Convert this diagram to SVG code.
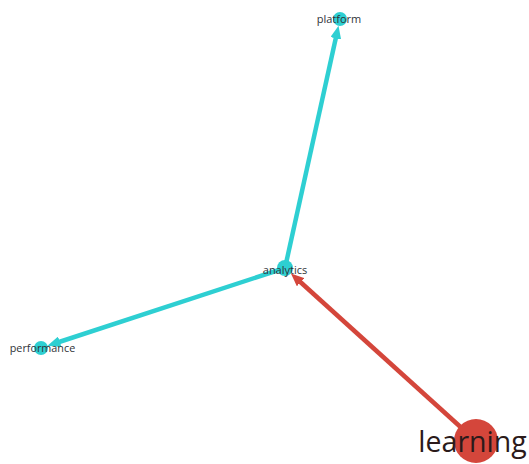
<svg xmlns="http://www.w3.org/2000/svg" width="529" height="464" viewBox="0 0 529 464">
<style>
.lbl{font-family:"Open Sans","Liberation Sans",sans-serif;fill:#2f3338;text-anchor:middle}
.cy{stroke:#2ecfd2;stroke-width:4.5;fill:none}
.rd{stroke:#d4463b;stroke-width:4.5;fill:none}
</style>
<defs>
<marker id="ac" markerUnits="userSpaceOnUse" markerWidth="13" markerHeight="11" refX="4" refY="5.5" orient="auto" viewBox="0 0 13 11"><path d="M0,0 L13,5.5 L0,11 z" fill="#2ecfd2"/></marker>
<marker id="ar" markerUnits="userSpaceOnUse" markerWidth="13" markerHeight="11" refX="4" refY="5.5" orient="auto" viewBox="0 0 13 11"><path d="M0,0 L13,5.5 L0,11 z" fill="#d4463b"/></marker>
</defs>
<rect width="529" height="464" fill="#fff"/>
<g id="edges">
<line class="cy" x1="285" y1="268" x2="336.6" y2="34.5" marker-end="url(#ac)"/>
<line class="cy" x1="285" y1="268" x2="56" y2="343" marker-end="url(#ac)"/>
<line class="rd" x1="476" y1="441" x2="297.6" y2="279.5" marker-end="url(#ar)"/>
</g>
<g id="node-platform"><circle cx="340" cy="19" r="7" fill="#2ecfd2"/><text class="lbl" x="339" y="23" font-size="11">platform</text></g>
<g id="node-analytics"><circle cx="285" cy="268" r="8" fill="#2ecfd2"/><text class="lbl" x="285" y="274" font-size="11">analytics</text></g>
<g id="node-performance"><circle cx="41" cy="348" r="7" fill="#2ecfd2"/><text class="lbl" x="42.5" y="352" font-size="10.8">performance</text></g>
<g id="node-learning"><circle cx="476" cy="441" r="22" fill="#d4463b"/><text class="lbl" x="472.5" y="452" font-size="28.5" style="fill:#2b1a1a">learning</text></g>
</svg>
